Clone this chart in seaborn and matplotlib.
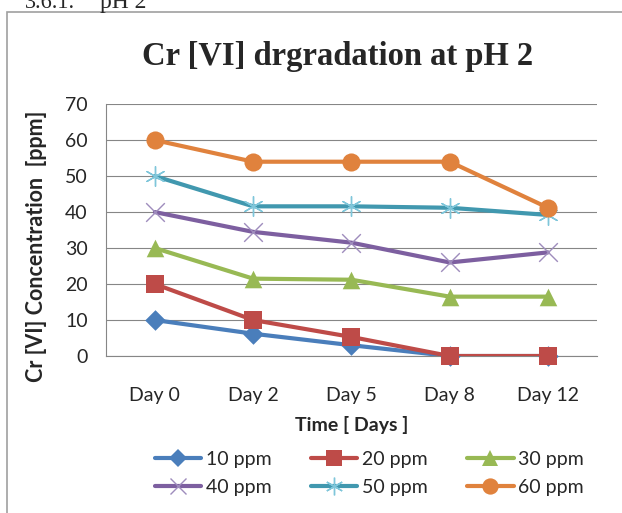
import numpy as np
import pandas as pd
import seaborn as sns
import matplotlib.pyplot as plt
from matplotlib.lines import Line2D
from matplotlib.patches import Rectangle

# datos
days = ["Day 0", "Day 2", "Day 5", "Day 8", "Day 12"]
ppm10 = [10, 6.2, 3.0, 0, 0]
ppm20 = [20, 10, 5.3, 0, 0]
ppm30 = [30, 21.5, 21.2, 16.5, 16.5]
ppm40 = [40, 34.5, 31.5, 26, 28.8]
ppm50 = [50, 41.6, 41.6, 41.2, 39.2]
ppm60 = [60, 54, 54, 54, 41.2]
series_names = ["10 ppm", "20 ppm", "30 ppm", "40 ppm", "50 ppm", "60 ppm"]

series = [ppm10, ppm20, ppm30, ppm40, ppm50, ppm60]
line_colors = ["#4A7EBB", "#BE4B48", "#98B954", "#7D5FA0", "#4198AF", "#E0823D"]
mk_colors = ["#4A7EBB", "#BE4B48", "#98B954", "#9E8CBC", "#7FC6DA", "#E0823D"]
markers = ["D", "s", "^", "x", (6, 2, 0), "o"]
sizes = [110, 150, 160, 180, 200, 170]
mk_lw = [0, 0, 0, 1.0, 1.0, 0]

sns.set_style("white")
plt.rcParams['font.family'] = ['Lato', 'DejaVu Sans']

fig = plt.figure(figsize=(6.22, 5.13), dpi=100)
ax = fig.add_axes([0.170, 0.306, 0.790, 0.491])

pos = np.arange(len(days))
for i, (name, vals) in enumerate(zip(series_names, series)):
    df = pd.DataFrame({'x': pos, 'y': vals})
    sns.lineplot(x='x', y='y', data=df, color=line_colors[i], lw=3, ax=ax,
                 zorder=3 + 2 * i)
    sns.scatterplot(x='x', y='y', data=df, color=mk_colors[i], marker=markers[i],
                    s=sizes[i], linewidth=mk_lw[i], edgecolor=mk_colors[i],
                    clip_on=False, zorder=4 + 2 * i, ax=ax)

ax.set_xlim(-0.5, len(days) - 0.5)
ax.set_ylim(0, 70)
ax.set_yticks(range(0, 71, 10))
ax.set_xticks(pos)
ax.set_xticklabels(days, fontsize=14)
ax.set_xticks(np.arange(-0.5, len(days), 1), minor=True)
ax.tick_params(axis='x', which='major', length=0, pad=22)
ax.tick_params(axis='x', which='minor', length=6, color='#868686', width=0.8)
ax.tick_params(axis='y', length=6, color='#868686', width=0.8, labelsize=14, pad=7)
ax.grid(axis='y', color='#868686', lw=0.8)
ax.set_axisbelow(True)
for s in ['top', 'right']:
    ax.spines[s].set_visible(False)
for s in ['left', 'bottom']:
    ax.spines[s].set_color('#868686')
    ax.spines[s].set_linewidth(0.8)

ax.set_xlabel("Time [ Days ]", fontsize=14, fontweight='bold', labelpad=9)
ax.set_ylabel("")
fig.text(0.058, 0.519, "Cr [VI] Concentration  [ppm]", rotation=90, fontsize=15.5,
         fontweight='bold', ha='center', va='center')

fig.text(0.543, 1 - 65 / 513, "Cr [VI] drgradation at pH 2", fontsize=23.5, fontweight='bold',
         family='Liberation Serif', ha='center', va='baseline')

# texto cortado arriba
fig.text(25 / 622, 1 - 8 / 513, "3.6.1.", fontsize=16, family='Liberation Serif', va='baseline')
fig.text(100 / 622, 1 - 8 / 513, "pH 2", fontsize=17, family='Liberation Serif', va='baseline')

# marco
fig.patches.append(Rectangle((6.5 / 622, -0.1), 1.2, 1 - 12.5 / 513 + 0.1,
                             transform=fig.transFigure, fill=False,
                             edgecolor='#A0A0A0', lw=1.2))

handles = []
for i, name in enumerate(series_names):
    handles.append(Line2D([], [], color=line_colors[i], lw=3, marker=markers[i],
                          markersize=np.sqrt(sizes[i]) * 0.9, markerfacecolor=mk_colors[i],
                          markeredgecolor=mk_colors[i], markeredgewidth=mk_lw[i],
                          label=name))
order = [0, 3, 1, 4, 2, 5]
fig.legend([handles[k] for k in order], [series_names[k] for k in order],
           loc='center', bbox_to_anchor=(0.594, 0.077), ncol=3, frameon=False,
           fontsize=14, handlelength=2.4, handletextpad=0.25, columnspacing=2.0,
           labelspacing=0.55)

plt.savefig("out.png", dpi=100)
